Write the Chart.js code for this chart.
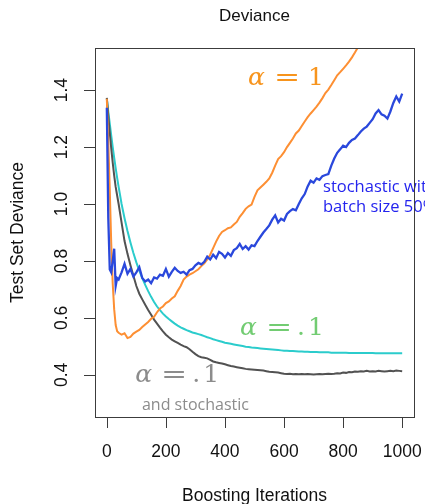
<!DOCTYPE html>
<html>
<head>
<meta charset="utf-8">
<script src="https://cdn.jsdelivr.net/npm/chart.js@4/dist/chart.umd.min.js"></script>
<style>
  html, body { margin: 0; padding: 0; background: #ffffff; }
  #wrap { width: 425px; height: 504px; }
</style>
</head>
<body>
<div id="wrap"><canvas id="chart" width="425" height="504"></canvas></div>
<script>
// Boosting iteration grid: fine steps early on, then every 10 iterations.
const iterations = [0, 5, 10, 15, 20, 25, 30, 35, 40];
for (let it = 50; it <= 1000; it += 10) iterations.push(it);

// Test set deviance, shrinkage alpha = 1
const devAlpha1 = [
  1.370, 1.220, 1.050, 0.860, 0.720, 0.630, 0.575, 0.553, 0.548,
  0.541, 0.546, 0.529, 0.533, 0.545, 0.552, 0.558, 0.568, 0.577, 0.586,
  0.597, 0.604, 0.620, 0.633, 0.640, 0.652, 0.658, 0.668, 0.676, 0.695,
  0.712, 0.735, 0.745, 0.752, 0.757, 0.764, 0.771, 0.782, 0.792, 0.805,
  0.822, 0.845, 0.868, 0.888, 0.902, 0.908, 0.915, 0.918, 0.928, 0.937,
  0.955, 0.968, 0.983, 0.992, 0.998, 1.025, 1.048, 1.058, 1.068, 1.078,
  1.090, 1.110, 1.135, 1.158, 1.168, 1.182, 1.200, 1.215, 1.230, 1.248,
  1.258, 1.274, 1.290, 1.305, 1.318, 1.330, 1.342, 1.356, 1.372, 1.390,
  1.402, 1.418, 1.435, 1.452, 1.463, 1.475, 1.487, 1.500, 1.515, 1.532,
  1.550, 1.568, 1.585, 1.600, 1.615, 1.630, 1.645, 1.660, 1.672, 1.688,
  1.700, 1.715, 1.730, 1.745, 1.760, 1.775
];

// Test set deviance, shrinkage alpha = .1
const devAlpha01 = [
  1.370, 1.325, 1.282, 1.240, 1.200, 1.162, 1.126, 1.092, 1.060,
  1.000, 0.950, 0.905, 0.865, 0.828, 0.795, 0.766, 0.740, 0.716, 0.694,
  0.674, 0.656, 0.640, 0.627, 0.615, 0.605, 0.596, 0.588, 0.580, 0.573,
  0.567, 0.562, 0.557, 0.553, 0.549, 0.546, 0.543, 0.540, 0.536, 0.532,
  0.529, 0.525, 0.522, 0.519, 0.516, 0.513, 0.511, 0.509, 0.507, 0.505,
  0.503, 0.501, 0.499, 0.498, 0.496, 0.495, 0.494, 0.493, 0.492, 0.491,
  0.490, 0.489, 0.488, 0.487, 0.486, 0.485, 0.485, 0.484, 0.484, 0.483,
  0.482, 0.482, 0.481, 0.481, 0.480, 0.480, 0.480, 0.479, 0.479, 0.479,
  0.479, 0.478, 0.478, 0.478, 0.478, 0.478, 0.478, 0.477, 0.477, 0.477,
  0.477, 0.477, 0.477, 0.477, 0.477, 0.477, 0.476, 0.476, 0.476, 0.476,
  0.476, 0.476, 0.476, 0.476, 0.476, 0.476
];

// Test set deviance, alpha = .1 with stochastic subsampling
const devAlpha01Stoch = [
  1.373, 1.310, 1.250, 1.195, 1.145, 1.100, 1.060, 1.030, 1.000,
  0.935, 0.870, 0.825, 0.785, 0.748, 0.712, 0.685, 0.665, 0.646, 0.628,
  0.611, 0.594, 0.580, 0.566, 0.553, 0.541, 0.532, 0.524, 0.518, 0.512,
  0.506, 0.501, 0.497, 0.490, 0.481, 0.473, 0.466, 0.462, 0.460, 0.458,
  0.453, 0.447, 0.444, 0.442, 0.440, 0.437, 0.434, 0.431, 0.429, 0.427,
  0.425, 0.423, 0.421, 0.420, 0.419, 0.418, 0.417, 0.416, 0.415, 0.413,
  0.411, 0.410, 0.409, 0.408, 0.406, 0.404, 0.403, 0.404, 0.402, 0.403,
  0.402, 0.403, 0.402, 0.403, 0.402, 0.401, 0.402, 0.403, 0.402, 0.403,
  0.404, 0.403, 0.404, 0.406, 0.405, 0.408, 0.407, 0.410, 0.409, 0.412,
  0.411, 0.413, 0.412, 0.414, 0.412, 0.413, 0.412, 0.414, 0.413, 0.412,
  0.413, 0.414, 0.413, 0.415, 0.414, 0.413
];

// Test set deviance, stochastic with batch size 50%
const devStochBatch = [
  1.338, 0.950, 0.770, 0.760, 0.800, 0.843, 0.712, 0.740, 0.735,
  0.760, 0.790, 0.755, 0.772, 0.745, 0.760, 0.778, 0.740, 0.728, 0.735,
  0.722, 0.742, 0.738, 0.752, 0.748, 0.772, 0.745, 0.762, 0.776, 0.765,
  0.758, 0.762, 0.752, 0.768, 0.772, 0.785, 0.793, 0.788, 0.797, 0.815,
  0.805, 0.822, 0.810, 0.832, 0.825, 0.812, 0.828, 0.818, 0.838, 0.845,
  0.860, 0.842, 0.852, 0.840, 0.855, 0.852, 0.870, 0.885, 0.900, 0.912,
  0.925, 0.945, 0.960, 0.935, 0.948, 0.942, 0.965, 0.975, 0.982, 0.978,
  1.000, 1.020, 1.035, 1.062, 1.082, 1.075, 1.090, 1.085, 1.098, 1.102,
  1.105, 1.135, 1.160, 1.180, 1.192, 1.205, 1.200, 1.215, 1.225, 1.230,
  1.242, 1.255, 1.265, 1.272, 1.285, 1.298, 1.318, 1.330, 1.315, 1.310,
  1.300, 1.325, 1.355, 1.378, 1.360, 1.388
];

// Axis tick labels
const xTicks = [0, 200, 400, 600, 800, 1000];
const yTicks = [0.4, 0.6, 0.8, 1.0, 1.2, 1.4];
const yTickLabels = ['0.4', '0.6', '0.8', '1.0', '1.2', '1.4'];

const toPoints = vals => vals.map((v, i) => ({ x: iterations[i], y: v }));

const AXIS_FONT = '"Liberation Sans", Arial, Helvetica, sans-serif';
const MATH_FONT = '"DejaVu Serif", "Liberation Serif", serif';
const NOTE_FONT = '"Open Sans", "Noto Sans", sans-serif';

// Curve annotations, anchored in data units (left edge, baseline)
const curveNotes = {
  alpha1:      { at: [478, 1.418], color: '#f7941d', tail: '1' },
  alpha01:     { at: [451, 0.540], color: '#72cc72', tail: '.1' },
  alpha01Gray: { at: [96, 0.375],  color: '#8c8c8c', tail: '.1' }
};

function drawAlpha(ctx, px, py, color, tail) {
  ctx.save();
  ctx.fillStyle = color;
  ctx.textBaseline = 'alphabetic';
  ctx.textAlign = 'left';
  ctx.font = 'italic 25px ' + MATH_FONT;
  ctx.fillText('\u03B1', px, py);
  ctx.font = '25px ' + MATH_FONT;
  ctx.textAlign = 'center';
  ctx.save();
  ctx.translate(px + 39, py);
  ctx.scale(1.25, 1);
  ctx.fillText('=', 0, 0);
  ctx.restore();
  if (tail === '1') {
    ctx.fillText('1', px + 68, py);
  } else {
    ctx.fillText('.', px + 61, py);
    ctx.fillText('1', px + 76, py);
  }
  ctx.restore();
}

const frameAndLabels = {
  id: 'frameAndLabels',
  afterDraw(chart) {
    const { ctx, chartArea: a } = chart;
    const xs = chart.scales.x, ys = chart.scales.y;
    ctx.save();

    // curve annotations
    for (const key of Object.keys(curveNotes)) {
      const n = curveNotes[key];
      drawAlpha(ctx, xs.getPixelForValue(n.at[0]), ys.getPixelForValue(n.at[1]), n.color, n.tail);
    }
    ctx.textAlign = 'left';
    ctx.textBaseline = 'alphabetic';
    ctx.font = '16px ' + NOTE_FONT;
    ctx.fillStyle = '#8c8c8c';
    ctx.fillText('and stochastic', xs.getPixelForValue(119), ys.getPixelForValue(0.277));
    ctx.font = '16.5px ' + NOTE_FONT;
    ctx.fillStyle = '#2424ee';
    ctx.fillText('stochastic with', xs.getPixelForValue(732), ys.getPixelForValue(1.042));
    ctx.fillText('batch size 50%', xs.getPixelForValue(732), ys.getPixelForValue(0.972));

    // plot frame
    ctx.strokeStyle = '#3c3c3c';
    ctx.lineWidth = 1;
    ctx.strokeRect(Math.round(a.left) + 0.5, Math.round(a.top) + 0.5,
                   Math.round(a.right - a.left), Math.round(a.bottom - a.top));

    // x axis ticks and labels
    ctx.fillStyle = '#111111';
    ctx.font = '17.5px ' + AXIS_FONT;
    ctx.textAlign = 'center';
    ctx.textBaseline = 'middle';
    ctx.beginPath();
    for (const v of xTicks) {
      const px = Math.round(xs.getPixelForValue(v)) + 0.5;
      ctx.moveTo(px, a.bottom + 1);
      ctx.lineTo(px, a.bottom + 11);
    }
    ctx.stroke();
    xTicks.forEach(v => ctx.fillText(String(v), xs.getPixelForValue(v), a.bottom + 35));

    // y axis ticks and labels (parallel to the axis)
    ctx.beginPath();
    for (const v of yTicks) {
      const py = Math.round(ys.getPixelForValue(v)) + 0.5;
      ctx.moveTo(a.left - 11, py);
      ctx.lineTo(a.left, py);
    }
    ctx.stroke();
    yTicks.forEach((v, i) => {
      ctx.save();
      ctx.translate(a.left - 33, ys.getPixelForValue(v));
      ctx.rotate(-Math.PI / 2);
      ctx.fillText(yTickLabels[i], 0, 0);
      ctx.restore();
    });

    // titles
    const cx = (a.left + a.right) / 2;
    ctx.font = '17px ' + AXIS_FONT;
    ctx.fillText('Deviance', cx, 16);
    ctx.font = '17.5px ' + AXIS_FONT;
    ctx.textBaseline = 'alphabetic';
    ctx.fillText('Boosting Iterations', cx, 501);
    ctx.save();
    ctx.translate(18, (a.top + a.bottom) / 2);
    ctx.rotate(-Math.PI / 2);
    ctx.textBaseline = 'middle';
    ctx.fillText('Test Set Deviance', 0, 0);
    ctx.restore();

    ctx.restore();
  }
};

const lineStyle = { pointRadius: 0, tension: 0, fill: false, clip: 0 };

new Chart(document.getElementById('chart'), {
  type: 'line',
  data: {
    datasets: [
      { label: 'stochastic with batch size 50%', data: toPoints(devStochBatch),
        borderColor: '#2a48dc', borderWidth: 2.3, order: 1, ...lineStyle },
      { label: 'alpha = 1', data: toPoints(devAlpha1),
        borderColor: '#fd8f33', borderWidth: 2, order: 2, ...lineStyle },
      { label: 'alpha = .1 and stochastic', data: toPoints(devAlpha01Stoch),
        borderColor: '#525252', borderWidth: 2, order: 3, ...lineStyle },
      { label: 'alpha = .1', data: toPoints(devAlpha01),
        borderColor: '#2bcccc', borderWidth: 2, order: 4, ...lineStyle }
    ]
  },
  options: {
    responsive: false,
    animation: false,
    layout: { padding: { left: 95, top: 48, right: 11, bottom: 87 } },
    plugins: { legend: { display: false }, tooltip: { enabled: false }, title: { display: false } },
    scales: {
      x: { type: 'linear', min: -40, max: 1040, display: false },
      y: { type: 'linear', min: 0.252, max: 1.548, display: false }
    }
  },
  plugins: [frameAndLabels]
});
</script>
</body>
</html>
